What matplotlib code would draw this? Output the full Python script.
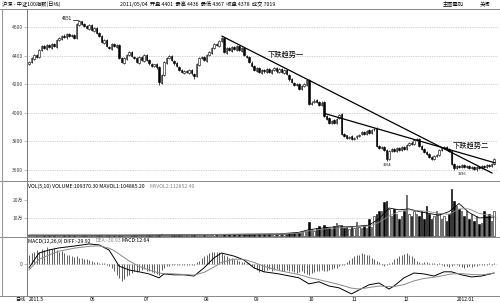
import matplotlib
matplotlib.use("Agg")
import matplotlib.pyplot as plt
from matplotlib.lines import Line2D

plt.rcParams['font.family'] = ['Noto Sans CJK SC', 'DejaVu Sans']

# daily candles (index points)
opens = [4340,4356,4380,4405,4392,4440,4468,4450,4475,4457,
         4482,4464,4510,4520,4540,4528,4553,4535,4546,4525,
         4618,4640,4619,4610,4590,4616,4576,4595,4556,4540,
         4490,4510,4464,4450,4482,4464,4476,4384,4350,4380,
         4406,4426,4394,4384,4350,4392,4366,4405,4370,4344,
         4327,4341,4320,4210,4265,4352,4384,4398,4366,4348,
         4323,4299,4281,4292,4281,4299,4274,4257,4337,4384,
         4391,4366,4405,4422,4454,4482,4470,4503,4525,4422,
         4454,4436,4461,4443,4468,4436,4454,4401,4391,4352,
         4327,4295,4313,4281,4299,4288,4306,4281,4299,4313,
         4288,4306,4281,4299,4267,4236,4211,4194,4201,4168,
         4187,4197,4230,4063,4074,4088,4077,4056,4074,3978,
         3961,3929,3947,3929,3961,3990,3852,3842,3824,3835,
         3816,3828,3838,3849,3866,3852,3877,3859,3884,3891,
         3767,3753,3764,3739,3676,3736,3746,3736,3757,3739,
         3764,3746,3778,3792,3781,3813,3820,3767,3746,3725,
         3711,3690,3676,3701,3704,3743,3757,3764,3746,3736,
         3640,3612,3630,3619,3637,3619,3630,3612,3623,3605,
         3623,3612,3630,3619,3637,3626,3640]
highs = [4365,4390,4410,4412,4445,4478,4475,4480,4485,4488,
         4490,4515,4530,4545,4550,4560,4560,4552,4555,4630,
         4651,4645,4628,4615,4622,4620,4600,4602,4565,4545,
         4515,4518,4470,4488,4490,4480,4482,4392,4390,4410,
         4432,4434,4400,4390,4396,4400,4410,4412,4378,4350,
         4345,4348,4325,4270,4360,4390,4405,4404,4372,4355,
         4330,4305,4298,4300,4304,4306,4280,4346,4390,4396,
         4398,4410,4432,4460,4488,4490,4510,4530,4532,4460,
         4462,4466,4468,4474,4476,4460,4460,4408,4398,4360,
         4334,4318,4320,4305,4306,4312,4312,4304,4318,4320,
         4312,4314,4304,4306,4274,4244,4218,4206,4208,4192,
         4206,4235,4236,4080,4094,4095,4084,4080,4080,3986,
         3968,3952,3954,3966,3995,3996,3860,3848,3840,3842,
         3834,3846,3854,3875,3872,3882,3884,3890,3896,3898,
         3774,3770,3770,3745,3740,3755,3752,3762,3764,3770,
         3770,3784,3798,3800,3818,3826,3826,3774,3752,3732,
         3718,3696,3706,3712,3748,3762,3770,3770,3752,3742,
         3646,3634,3636,3642,3644,3634,3636,3628,3630,3628,
         3630,3634,3636,3642,3644,3648,3686]
lows = [4332,4348,4372,4382,4385,4432,4445,4442,4452,4450,
        4458,4456,4502,4512,4522,4520,4530,4528,4515,4518,
        4610,4612,4600,4585,4582,4570,4568,4550,4530,4486,
        4482,4458,4445,4442,4458,4456,4375,4346,4342,4372,
        4398,4388,4375,4346,4342,4360,4358,4360,4338,4318,
        4320,4310,4192,4202,4258,4345,4376,4360,4338,4318,
        4290,4276,4274,4276,4274,4268,4240,4250,4330,4376,
        4360,4358,4398,4415,4446,4465,4462,4496,4416,4415,
        4430,4428,4438,4436,4430,4428,4396,4382,4346,4318,
        4290,4288,4276,4274,4282,4280,4276,4274,4292,4282,
        4280,4276,4274,4262,4226,4206,4185,4186,4162,4160,
        4180,4190,4058,4056,4066,4072,4050,4048,3972,3952,
        3924,3922,3924,3922,3954,3846,3832,3818,3816,3810,
        3808,3820,3830,3842,3846,3845,3854,3852,3876,3762,
        3748,3746,3734,3664,3668,3728,3726,3728,3734,3732,
        3740,3738,3770,3776,3774,3806,3762,3740,3720,3706,
        3684,3670,3668,3694,3696,3736,3750,3740,3726,3634,
        3600,3604,3614,3612,3614,3612,3606,3604,3598,3596,
        3606,3604,3614,3612,3620,3618,3632]
closes = [4354,4382,4403,4389,4438,4466,4452,4473,4459,4480,
          4466,4508,4522,4537,4530,4551,4537,4544,4522,4621,
          4642,4621,4607,4593,4614,4579,4593,4558,4537,4494,
          4508,4466,4452,4480,4466,4473,4382,4354,4382,4403,
          4424,4396,4382,4354,4389,4368,4403,4368,4346,4325,
          4339,4318,4213,4262,4354,4382,4396,4368,4346,4325,
          4297,4283,4290,4283,4297,4276,4255,4339,4382,4389,
          4368,4403,4424,4452,4480,4473,4501,4522,4424,4452,
          4438,4459,4445,4466,4438,4452,4403,4389,4354,4325,
          4297,4311,4283,4297,4290,4304,4283,4297,4311,4290,
          4304,4283,4297,4269,4234,4213,4192,4199,4170,4185,
          4199,4227,4065,4072,4086,4079,4058,4072,3980,3959,
          3931,3945,3931,3959,3987,3854,3840,3826,3833,3818,
          3826,3840,3847,3868,3854,3875,3861,3882,3889,3769,
          3755,3762,3741,3678,3734,3748,3734,3755,3741,3762,
          3748,3776,3790,3783,3811,3818,3769,3748,3727,3713,
          3692,3678,3699,3706,3741,3755,3762,3748,3734,3642,
          3614,3628,3621,3635,3621,3628,3614,3621,3607,3621,
          3614,3628,3621,3635,3628,3642,3678]

# volume in 万
volume = [0.4,0.5,0.4,0.6,0.5,0.4,0.3,0.4,0.5,0.4,
          0.3,0.4,0.5,0.4,0.3,0.4,0.3,0.5,0.4,0.6,
          0.5,0.4,0.3,0.4,0.3,0.4,0.5,0.4,0.3,0.4,
          0.4,0.5,0.4,0.3,0.4,0.3,0.6,0.5,0.4,0.3,
          0.4,0.4,0.5,0.4,0.6,0.5,0.4,0.5,0.6,0.5,
          0.6,0.7,0.6,0.9,0.7,0.6,0.5,0.6,0.5,0.6,
          0.5,0.6,0.7,0.6,0.5,0.6,0.7,0.8,0.7,0.6,
          0.7,0.8,0.7,0.8,0.9,0.8,0.7,0.9,1.0,1.1,
          0.9,1.0,0.9,1.1,1.0,0.9,1.2,1.0,1.1,1.2,
          1.0,1.1,0.9,1.0,1.2,1.1,1.0,1.2,1.3,1.1,
          1.0,1.2,1.3,1.1,1.5,1.7,1.9,2.1,1.8,2.4,
          2.8,2.6,7.8,3.9,2.8,4.4,5.6,3.9,6.1,5.0,
          4.4,4.0,5.6,7.2,6.0,6.1,4.4,5.0,3.9,5.6,
          4.4,7.8,5.0,4.4,5.6,4.4,9.4,5.0,11.1,12.2,
          13.9,13.9,18.9,19.4,15.0,11.1,15.0,12.2,9.4,11.1,
          13.9,22.8,12.2,11.1,13.9,12.2,11.1,13.9,9.4,16.7,
          12.2,9.4,11.1,13.9,12.2,9.4,11.1,8.3,12.2,26.1,
          19.4,16.7,15.0,13.9,11.1,13.9,9.4,12.2,8.3,11.1,
          6.7,7.2,13.9,11.1,12.2,8.3,13.9]
mavol_idx = [0,40,80,100,108,112,120,130,136,140,144,148,152,156,160,164,168,172,176,180,186]
mavol1 = [0.45,0.45,0.9,1.1,2.0,3.5,4.8,5.2,6.0,9.5,15.5,14.5,15.0,13.5,12.5,11.5,13.5,18.0,13.0,10.0,10.5]
mavol2 = [0.45,0.45,0.85,1.05,1.6,2.8,4.2,5.0,5.5,7.5,11.0,13.5,14.5,14.0,13.5,12.5,12.0,15.0,15.0,12.5,11.0]

# MACD
macd_idx = [0,4,8,12,18,24,28,32,34,36,40,44,48,52,54,58,62,66,70,74,
            77,82,86,90,94,100,108,112,116,120,124,129,132,136,140,144,146,150,154,158,
            162,166,169,173,177,181,186]
diff = [-13,36,46,53,59,66,63,46,20,-7,-20,-26,-33,-46,-33,-36,-36,-40,-13,20,
        36,26,13,-13,-26,-33,-46,-66,-59,-73,-79,-99,-86,-69,-63,-83,-73,-46,-30,-33,
        -40,-26,-26,-36,-43,-40,-30]
dea = [-20,15,30,42,52,58,60,52,44,33,10,-8,-20,-30,-32,-33,-35,-37,-28,-10,
       5,16,15,5,-8,-22,-35,-45,-52,-60,-68,-80,-83,-78,-73,-75,-75,-68,-56,-48,
       -44,-38,-33,-32,-35,-36,-31]
macd_bar = [30,35,40,45,40,50,45,55,50,48,52,45,40,42,35,
            30,28,25,22,25,20,18,15,16,12,10,8,6,4,3,
            2,-3,-8,-15,-25,-35,-45,-55,-50,-40,-35,-30,-25,-28,-22,
            -20,-18,-22,-25,-28,-30,-32,-35,-20,-12,-8,-6,-5,-4,-3,
            -4,-3,-2,-3,-2,-3,-4,5,10,18,25,30,35,38,40,
            38,40,35,30,25,20,18,15,12,10,8,6,4,2,-8,
            -15,-20,-28,-25,-22,-20,-18,-22,-20,-18,-20,-22,-25,-20,-22,
            -25,-28,-30,-28,-25,-30,-32,-35,-30,-28,-25,-22,-20,-25,-22,
            -20,-18,-15,-12,-8,-5,-2,5,12,20,25,28,30,35,32,
            30,28,20,15,10,5,-3,-6,-5,3,8,15,20,25,30,
            32,35,30,25,20,10,6,3,5,8,4,2,3,-3,2,
            -5,-6,-8,-10,-6,-4,-5,-8,-10,-12,-10,-8,-10,-8,-6,
            -5,-4,-3,-2,3,-3,4]

price_ticks = [3600, 3800, 4000, 4200, 4400, 4600]
month_labels = ["2011.5", "06", "07", "08", "09", "10", "11", "12", "2012.01"]
month_pos = [0, 24.5, 46, 70, 90, 112, 129, 150, 171]

# trend lines (index, price)
trend1 = ([77.2, 185.2], [4537, 3579])
trend2 = ([118.4, 186.4], [3995, 3650])

n = len(closes)
idx = list(range(n))
up = [c >= o for o, c in zip(opens, closes)]
faces = ['white' if u else 'black' for u in up]

fig = plt.figure(figsize=(5, 3.03), dpi=100)
ax1 = fig.add_axes([0.054, 0.4026, 0.94, 0.5677])
ax2 = fig.add_axes([0.054, 0.2178, 0.94, 0.1848])
ax3 = fig.add_axes([0.054, 0.0231, 0.94, 0.1947])

for ax in (ax1, ax2, ax3):
    ax.set_xlim(-0.8, 187.2)
    ax.set_xticks([])
    for s in ('top', 'right', 'bottom'):
        ax.spines[s].set_visible(False)
    ax.spines['left'].set_color('#777')
    ax.spines['left'].set_linewidth(0.7)
    ax.tick_params(axis='y', length=2, width=0.4, color='#888', labelsize=3.6,
                   pad=1, labelcolor='#444')

# main price panel
ax1.set_ylim(3523, 4727)
ax1.set_yticks(price_ticks)
ax1.set_yticklabels([str(p) for p in price_ticks])
for p in price_ticks:
    ax1.axhline(p, color='#aaa', lw=0.5, ls=(0, (1, 1.5)), zorder=0)
ax1.vlines(idx, lows, highs, color='black', lw=0.5, zorder=1)
bottoms = [min(o, c) for o, c in zip(opens, closes)]
heights = [max(abs(c - o), 3) for o, c in zip(opens, closes)]
ax1.bar(idx, heights, bottom=bottoms, width=0.75, color=faces,
        edgecolor='black', linewidth=0.4, zorder=2)
ax1.plot(trend1[0], trend1[1], color='black', lw=0.9, zorder=3)
ax1.plot(trend2[0], trend2[1], color='black', lw=0.9, zorder=3)
ax1.text(95.6, 4410, "下跌趋势一", fontsize=5.2, va='center', ha='left')
ax1.text(169.3, 3772, "下跌趋势二", fontsize=5.2, va='center', ha='left')
ax1.text(17.3, 4658, "4651", fontsize=3.3, va='center', ha='right')
ax1.plot([17.5, 19.7], [4651, 4651], color='black', lw=0.5)
ax1.text(141.5, 3652, "3664", fontsize=2.8, va='top', ha='left')
ax1.text(171.5, 3585, "3596", fontsize=2.8, va='top', ha='left')

# volume panel
ax2.set_ylim(-0.6, 30.5)
ax2.set_yticks([10, 20])
ax2.set_yticklabels(["10万", "20万"])
ax2.axhline(10, color='#aaa', lw=0.5, ls=(0, (1, 1.5)), zorder=0)
ax2.bar(idx, volume, width=0.75, color=faces, edgecolor='black', linewidth=0.4)
ax2.plot(mavol_idx, mavol1, color='black', lw=0.6)
ax2.plot(mavol_idx, mavol2, color='#888', lw=0.6)

# MACD panel
ax3.set_ylim(-106, 89)
ax3.set_yticks([0])
ax3.set_yticklabels(["0"])
ax3.axhline(0, color='#aaa', lw=0.5, ls=(0, (1, 1.5)), zorder=0)
ax3.vlines(idx, 0, macd_bar, color='#333', lw=0.55)
ax3.plot(macd_idx, diff, color='black', lw=0.7)
ax3.plot(macd_idx, dea, color='#888', lw=0.7)

# frame lines
for y in (9, 181, 237, 296):
    fig.add_artist(Line2D([0, 1], [1 - y / 303, 1 - y / 303], color='#888', lw=0.7))
fig.add_artist(Line2D([0.003, 0.003], [1 - 296 / 303, 1 - 9 / 303], color='#999', lw=0.8))

# header / legend texts
fig.text(0.004, 1 - 4.5 / 303, "沪深 - 中证100指数(日线)", fontsize=3.8, va='center')
fig.text(0.24, 1 - 4.5 / 303,
         "2011/05/04  开盘 4401  最高 4436  最低 4367  收盘 4378  成交 7019",
         fontsize=3.8, va='center')
fig.text(0.885, 1 - 4.5 / 303, "主图叠加", fontsize=3.8, va='center')
fig.text(0.96, 1 - 4.5 / 303, "关闭", fontsize=3.8, va='center')
fig.text(0.056, 1 - 186 / 303, "VOL(5,10) VOLUME:109370.30 MAVOL1:104885.20",
         fontsize=3.7, va='center')
fig.text(0.30, 1 - 186 / 303, "MAVOL2:112852.40", fontsize=3.7, va='center', color='#888')
fig.text(0.056, 1 - 241 / 303, "MACD(12,26,9) DIFF:-29.92", fontsize=3.7, va='center')
fig.text(0.19, 1 - 241 / 303, "DEA:-30.93", fontsize=3.7, va='center', color='#888')
fig.text(0.244, 1 - 241 / 303, "MACD:12.64", fontsize=3.7, va='center')

# date axis
fig.text(0.03, 1 - 299.5 / 303, "日线", fontsize=3.6, va='center')
for lab, pos in zip(month_labels, month_pos):
    xf = (29 + 2.5 * pos) / 500
    fig.text(xf, 1 - 299.5 / 303, lab, fontsize=3.6, va='center', ha='left')

fig.savefig("out.png", dpi=100)
